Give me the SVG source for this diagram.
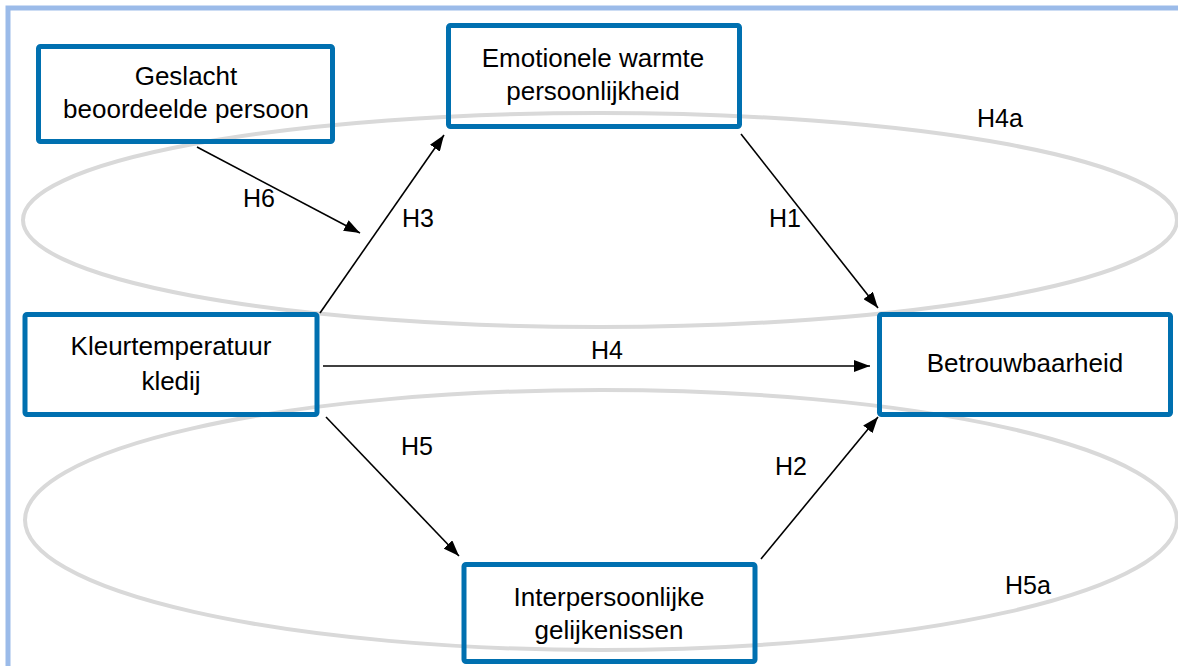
<svg xmlns="http://www.w3.org/2000/svg" width="1178" height="666" viewBox="0 0 1178 666">
<style>
.box{fill:none;stroke:#0070b0;stroke-width:5;}
.ell{fill:none;stroke:#d9d9d9;stroke-width:4;}
.t{font-family:"Liberation Sans",Arial,sans-serif;font-size:26px;fill:#000;text-anchor:middle;}
.lbl{font-family:"Liberation Sans",Arial,sans-serif;font-size:25px;fill:#000;text-anchor:middle;}
.arr{stroke:#000;stroke-width:1.6;fill:none;marker-end:url(#ah);}
</style>
<defs>
<marker id="ah" markerWidth="16" markerHeight="12" refX="16" refY="6" orient="auto" markerUnits="userSpaceOnUse" viewBox="0 0 16 12">
<path d="M0,0 L16,6 L0,12 Z" fill="#000"/>
</marker>
</defs>
<rect x="0" y="0" width="1178" height="666" fill="#fff"/>
<rect x="8" y="8" width="1200" height="700" fill="none" stroke="#9bbbe9" stroke-width="5"/>
<g id="ellipses">
<ellipse class="ell" cx="600" cy="220" rx="577" ry="107"/>
<ellipse class="ell" cx="601" cy="520" rx="576" ry="130"/>
</g>
<g id="connectors">
<line class="arr" x1="197" y1="147" x2="360" y2="233"/>
<line class="arr" x1="320" y1="313" x2="444" y2="135"/>
<line class="arr" x1="741" y1="134" x2="878" y2="308"/>
<line class="arr" x1="323" y1="366" x2="870" y2="366"/>
<line class="arr" x1="326" y1="417" x2="459" y2="556"/>
<line class="arr" x1="761" y1="559" x2="878" y2="417"/>
</g>
<g id="labels">
<text class="lbl" x="259" y="207">H6</text>
<text class="lbl" x="418" y="227">H3</text>
<text class="lbl" x="785" y="227">H1</text>
<text class="lbl" x="1000" y="127">H4a</text>
<text class="lbl" x="607" y="359">H4</text>
<text class="lbl" x="417" y="455">H5</text>
<text class="lbl" x="791" y="475">H2</text>
<text class="lbl" x="1028" y="594">H5a</text>
</g>
<g id="node-geslacht">
<rect class="box" x="38.5" y="46.5" width="294" height="95" rx="2"/>
<text class="t" x="186" y="85">Geslacht</text>
<text class="t" x="186" y="118">beoordeelde persoon</text>
</g>
<g id="node-emotionele">
<rect class="box" x="448.5" y="25.5" width="291" height="101" rx="2"/>
<text class="t" x="593" y="67">Emotionele warmte</text>
<text class="t" x="593" y="100">persoonlijkheid</text>
</g>
<g id="node-kleur">
<rect class="box" x="25" y="314.5" width="292" height="100" rx="2"/>
<text class="t" x="171" y="355">Kleurtemperatuur</text>
<text class="t" x="171" y="390">kledij</text>
</g>
<g id="node-betrouwbaarheid">
<rect class="box" x="879.5" y="314.5" width="291" height="100" rx="2"/>
<text class="t" x="1025" y="372">Betrouwbaarheid</text>
</g>
<g id="node-interpersoonlijk">
<rect class="box" x="464" y="564.5" width="291" height="97" rx="2"/>
<text class="t" x="609" y="606">Interpersoonlijke</text>
<text class="t" x="609" y="639">gelijkenissen</text>
</g>
</svg>
